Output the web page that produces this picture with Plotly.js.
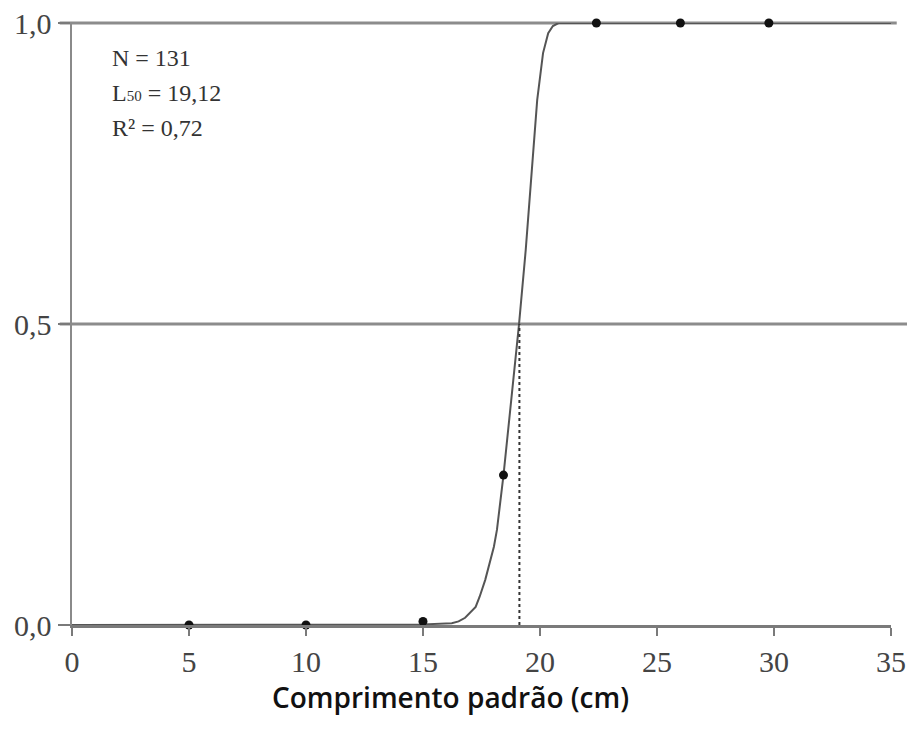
<!DOCTYPE html>
<html>
<head>
<meta charset="utf-8">
<script src="https://cdn.plot.ly/plotly-3.0.1.min.js"></script>
<style>html,body{margin:0;padding:0;background:#fff;}</style>
</head>
<body>
<div id="chart" style="width:907px;height:733px;"></div>
<script>
// Observed points (comprimento padrão, proporção de maduros)
const obsX = [5, 10, 15, 18.44, 22.41, 26.0, 29.78];
const obsY = [0, 0, 0.006, 0.249, 1, 1, 1];

// Fitted curve
const curveX = [0, 15, 16.23, 16.52, 16.80, 17.01, 17.25, 17.42, 17.66, 18.03, 18.16, 18.44, 19.10, 19.39, 19.71, 19.88, 20.13, 20.35, 20.55, 20.79, 35];
const curveY = [0, 0.001, 0.003, 0.006, 0.012, 0.02, 0.03, 0.047, 0.075, 0.13, 0.158, 0.249, 0.498, 0.623, 0.781, 0.872, 0.950, 0.983, 0.995, 1.0, 1.0];

const L50 = 19.12;
const L50X = [L50, L50];
const L50Y = [0, 0.5];

const xTicks = [0, 5, 10, 15, 20, 25, 30, 35];
const xTickText = ['0', '5', '10', '15', '20', '25', '30', '35'];
const yTicks = [0, 0.5, 1];
const yTickText = ['0,0', '0,5', '1,0'];
const refLevels = [0.5, 1];

const statLines = ['N = 131', 'L<span style="font-size:15px">50</span> = 19,12', 'R² = 0,72'];
const xTitle = 'Comprimento padrão (cm)';

const serif = 'Liberation Serif, Times New Roman, serif';
const lineGray = '#8c8c8c';

const traces = [
  {x: curveX, y: curveY, mode: 'lines', line: {color: '#555555', width: 2}, hoverinfo: 'skip', cliponaxis: false},
  {x: L50X, y: L50Y, mode: 'lines', line: {color: '#333333', width: 2, dash: 'dot'}, hoverinfo: 'skip'},
  {x: obsX, y: obsY, mode: 'markers', marker: {color: '#111111', size: 9}, cliponaxis: false}
];

// y range is [0,1], so paper y equals data y; paper refs avoid clipping the top line
const hLines = refLevels.map(v => ({
  type: 'line', xref: 'paper', yref: 'paper', x0: -0.015, x1: v === 1 ? 1.007 : 1.03, y0: v, y1: v,
  line: {color: lineGray, width: 3}, layer: 'below'
}));

const annY = [0.942, 0.884, 0.826];
const annotations = statLines.map((t, i) => ({
  text: t, xref: 'paper', yref: 'paper', x: 0.046, y: annY[i], xanchor: 'left', yanchor: 'middle',
  showarrow: false, font: {family: serif, size: 24, color: '#333333'}
}));
annotations.push({
  text: xTitle, xref: 'paper', yref: 'paper', x: 0.462, y: -0.12, xanchor: 'center', yanchor: 'middle',
  showarrow: false, font: {family: 'Open Sans, sans-serif', size: 28, color: '#111111', weight: 600}
});

const layout = {
  width: 907, height: 733,
  margin: {l: 72, r: 16, t: 23, b: 108},
  paper_bgcolor: '#ffffff', plot_bgcolor: '#ffffff',
  showlegend: false,
  xaxis: {
    range: [0, 35], tickvals: xTicks, ticktext: xTickText,
    showgrid: false, zeroline: false, showline: true, linecolor: '#7a7a7a', linewidth: 3,
    ticks: 'outside', ticklen: 8, tickwidth: 2, tickcolor: '#7a7a7a',
    tickfont: {family: serif, size: 30, color: '#444444'}, fixedrange: true
  },
  yaxis: {
    range: [0, 1], tickvals: yTicks, ticktext: yTickText,
    showgrid: false, zeroline: false, showline: true, linecolor: '#8a8a8a', linewidth: 2.5,
    ticks: 'outside', ticklen: 12, tickwidth: 2, tickcolor: '#7a7a7a',
    tickfont: {family: serif, size: 30, color: '#444444'}, fixedrange: true
  },
  shapes: hLines,
  annotations: annotations
};

Plotly.newPlot('chart', traces, layout, {displayModeBar: false, staticPlot: true});
</script>
</body>
</html>
